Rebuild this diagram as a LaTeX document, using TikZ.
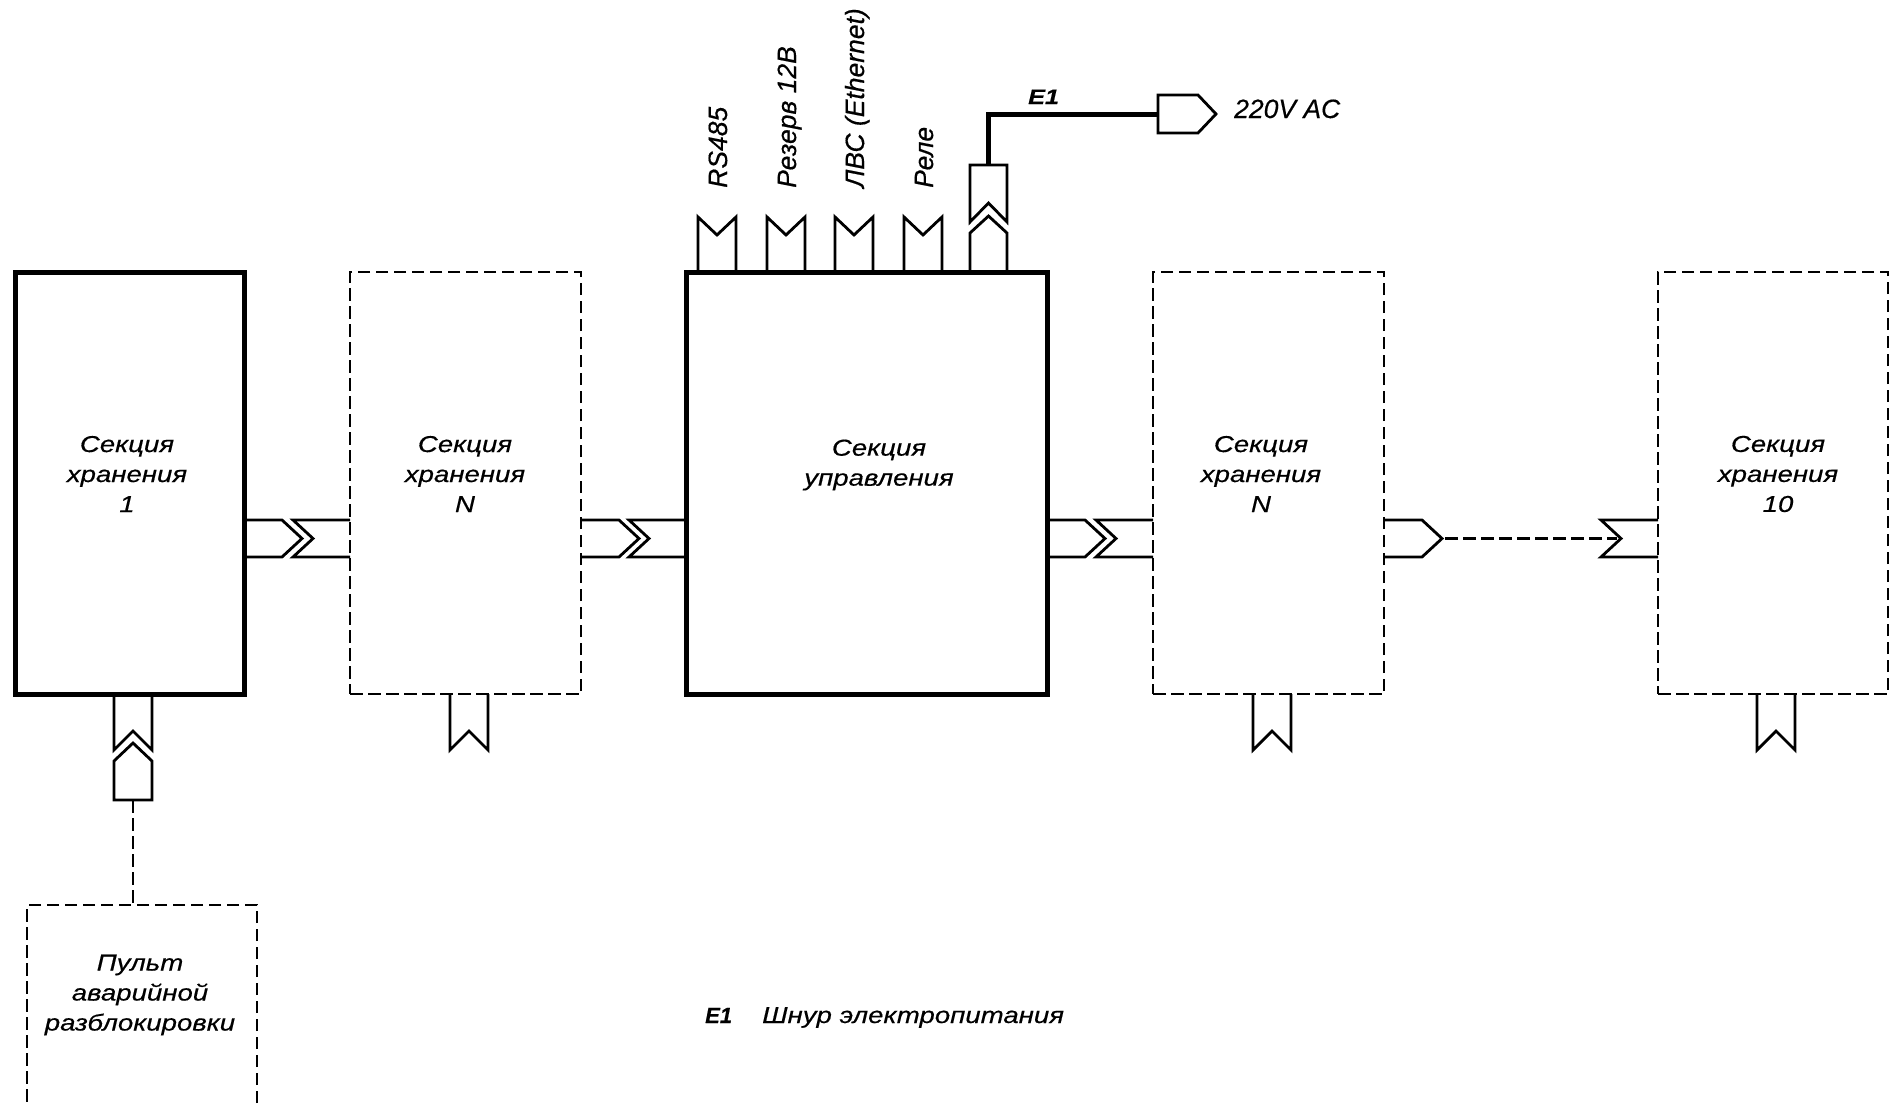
\documentclass[tikz,border=0pt]{standalone}
\usepackage{fontspec}
\setmainfont{Liberation Sans}[FakeBold=0.4]
\newfontfamily\fwide{Liberation Sans}[FakeStretch=1.2,FakeBold=0.4]
\usetikzlibrary{calc}
\newcommand\plugright[1]{\draw[conn] (#1) ++(0,37) -- ++(38,0) -- ++(20,18.5) -- ++(-20,18.5) -- ++(-38,0);}
\newcommand\sockleft[1]{\draw[conn] (#1) ++(0,37) -- ++(-57,0) -- ++(20,18.5) -- ++(-20,18.5) -- ++(57,0);}
\newcommand\sockup[1]{\draw[conn] (#1) ++(-19,0) -- ++(0,-55) -- ++(19,18) -- ++(19,-18) -- ++(0,55);}
\newcommand\sockhang[1]{\draw[conn] (#1) ++(-19,0) -- ++(0,56) -- ++(19,-19) -- ++(19,19) -- ++(0,-56);}
\begin{document}
\begin{tikzpicture}[x=1pt,y=-1pt,
  thickbox/.style={draw, line width=5pt, minimum width=#1, minimum height=422pt, inner sep=0pt, outer sep=0pt},
  dashbox/.style={draw, line width=2pt, dash pattern=on 12.5pt off 5.5pt, minimum width=#1, minimum height=422pt, inner sep=0pt, outer sep=0pt},
  conn/.style={line width=2.8pt, line join=miter, miter limit=10},
  dline/.style={line width=2.2pt, dash pattern=on 12.5pt off 5.5pt},
  cable/.style={line width=5pt},
  boxtext/.style={font=\fwide\itshape\fontsize{23}{30}\selectfont, align=center, inner sep=0pt},
  vlabel/.style={font=\itshape\fontsize{26.5}{30}\selectfont, rotate=90, anchor=base west, inner sep=0pt}
]
\fill[white] (0,0) rectangle (1892,1103);
\clip (0,0) rectangle (1892,1103);

% boxes
\node[thickbox=229pt] (b1) at (129.5,483) {};
\node[dashbox=231pt] (n1) at (465.5,483) {};
\node[thickbox=361pt] (ctl) at (866.5,483) {};
\node[dashbox=231pt] (n2) at (1268.5,483) {};
\node[dashbox=230pt] (b10) at (1773,483) {};
\node[dashbox=230pt, minimum height=220pt] (pult) at (142,1015) {};

% box texts
\node[boxtext] (t1) at (127,474) {Секция\\хранения\\1};
\node[boxtext] (tn1) at (465,474) {Секция\\хранения\\N};
\node[boxtext] (tc) at (879,465) {Секция\\управления};
\node[boxtext] (tn2) at (1261,474) {Секция\\хранения\\N};
\node[boxtext] (t10) at (1778,474) {Секция\\хранения\\10};
\node[boxtext] (tp) at (140,995) {Пульт\\аварийной\\разблокировки};

% horizontal connectors
\plugright{b1.east} \sockleft{n1.west}
\plugright{n1.east} \sockleft{ctl.west}
\plugright{ctl.east} \sockleft{n2.west}
\plugright{n2.east} \sockleft{b10.west}
\coordinate (tipA) at ($(n2.east)+(58,55.5)$);
\coordinate (tipB) at ($(b10.west)+(-37,55.5)$);
\draw[dline, shorten <=3pt, shorten >=4pt] (tipA) -- (tipB);

% top sockets of control section
\sockup{$(ctl.north west)+(31,0)$}
\sockup{$(ctl.north west)+(100,0)$}
\sockup{$(ctl.north west)+(168,0)$}
\sockup{$(ctl.north west)+(237,0)$}

\node[vlabel] (l1) at (727,188) {RS485};
\node[vlabel] (l2) at (796,188) {Резерв 12В};
\node[vlabel] (l3) at (864,188) {ЛВС (Ethernet)};
\node[vlabel] (l4) at (933,188) {Реле};

% power connector
\coordinate (pw) at ($(ctl.north west)+(302.5,0)$);
\draw[conn] (pw) ++(-18.5,0) -- ++(0,-39) -- ++(18.5,-17) -- ++(18.5,17) -- ++(0,39);
\draw[conn] (pw) ++(-18.5,-50) -- ++(0,-57) -- ++(37,0) -- ++(0,57) -- ++(-18.5,-19) -- cycle;
\coordinate (pwtop) at ($(pw)+(0,-107)$);
\coordinate (acin) at (1158,114);
\draw[cable] (pwtop) |- (acin);
\draw[conn] (acin) ++(0,-19) -- ++(40,0) -- ++(18,19) -- ++(-18,19) -- ++(-40,0) -- cycle;
\node[font=\fwide\bfseries\itshape\fontsize{21}{24}\selectfont, anchor=base west, inner sep=0pt] (e1) at (1028,104) {E1};
\node[font=\itshape\fontsize{26.5}{30}\selectfont, anchor=base west, inner sep=0pt] (ac) at (1234,118) {220V AC};

% bottom sockets
\coordinate (b1s) at ($(b1.south)+(3.5,0)$);
\sockhang{b1s}
\draw[conn] (b1s) ++(-19,106) -- ++(0,-39) -- ++(19,-18) -- ++(19,18) -- ++(0,39) -- cycle;
\coordinate (b1p) at ($(b1s)+(0,106)$);
\draw[dline] (b1p) -- (b1p |- pult.north);
\sockhang{$(n1.south)+(3.5,0)$}
\sockhang{$(n2.south)+(3.5,0)$}
\sockhang{$(b10.south)+(3,0)$}

% legend
\node[font=\bfseries\itshape\fontsize{22}{26}\selectfont, anchor=base west, inner sep=0pt] (lgE) at (705,1023) {E1};
\node[font=\fwide\itshape\fontsize{23}{26}\selectfont, anchor=base west, inner sep=0pt] (lgT) at (762,1023) {Шнур электропитания};
\end{tikzpicture}
\end{document}
